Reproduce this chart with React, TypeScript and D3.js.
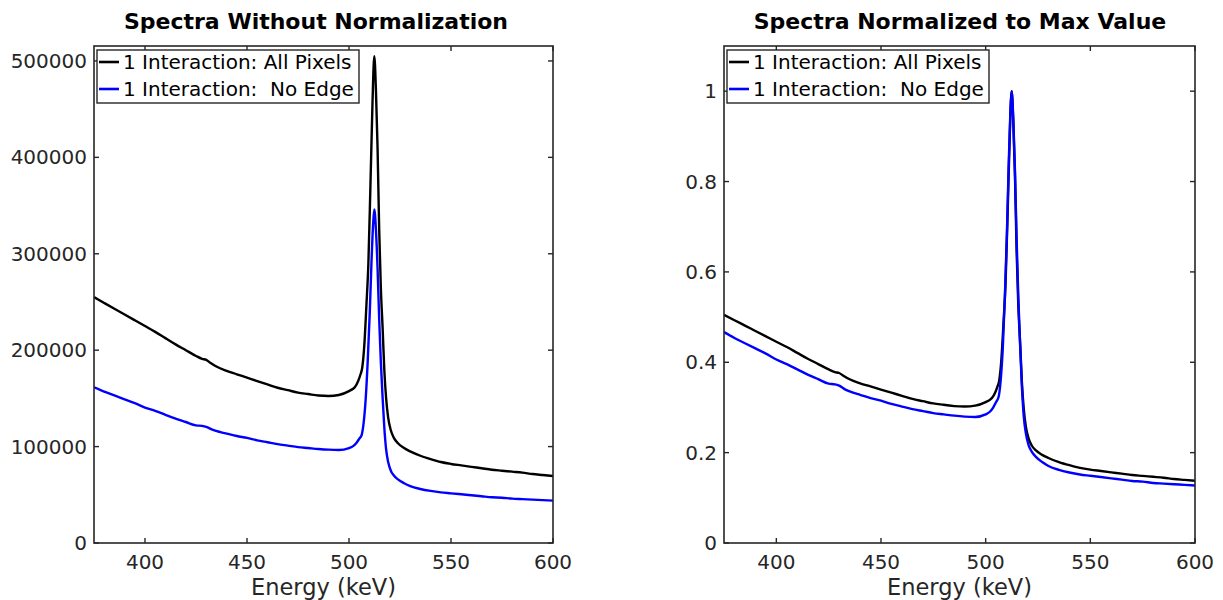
import React from "react";
import * as d3 from "d3";

// Energy grid (keV) and raw counts for each series
const energyAll = [375,380,385,390,395,400,405,410,415,420,425,428,430,432,435,440,445,450,455,460,465,470,475,480,485,490,495,500,502,503,504.5,505.5,506.5,507.5,508.5,509.5,510.5,511.5,512.4,513.2,514.0,514.8,515.6,516.5,517.3,518.2,519.2,520.5,522,524,527,530,535,540,545,550,555,560,565,570,575,580,585,590,595,600];
const countsAll = [255000,249000,243000,237000,231000,225000,219000,212500,206000,200000,194000,191000,190000,187000,183000,178500,175000,171500,168000,164500,161000,158500,156000,154500,153000,152500,153500,157500,160000,162000,168000,174000,182000,205000,245000,290000,370000,455000,505000,470000,410000,325000,265000,222000,180000,150000,130000,117000,109000,103500,98500,95000,90500,87000,84000,82000,80500,79000,77500,76000,75000,74000,73000,71500,70500,69500];

const energyNoEdge = [375,380,385,390,395,400,405,410,415,420,425,428,430,433,437,440,445,450,455,460,465,470,475,480,485,490,495,500,502,503.5,505,506.2,507.2,508.2,509.2,510.2,511.0,511.8,512.4,513.2,514.0,514.8,515.6,516.5,517.3,518.2,519.2,520.5,522,524,527,530,535,540,545,550,555,560,565,570,575,580,585,590,595,600];
const countsNoEdge = [161500,157000,153000,149000,145000,140500,137000,133000,129000,125500,122000,121500,120500,117500,115000,113500,111000,109000,106500,104500,102500,101000,99500,98500,97500,96800,96500,98500,100500,103500,108000,112000,125000,150000,190000,240000,290000,330000,346000,325000,285000,232000,188000,150000,120000,97000,84000,75000,70000,66000,62000,59000,56000,54000,52500,51500,50500,49500,48500,47500,47000,46000,45500,45000,44500,44000];

const xTicks = [400, 450, 500, 550, 600];
const yTicksRaw = [0, 100000, 200000, 300000, 400000, 500000];
const yTicksNorm = [0, 0.2, 0.4, 0.6, 0.8, 1];
const legendLabels = ["1 Interaction: All Pixels", "1 Interaction:  No Edge"];
const seriesColors = ["#000000", "#0000ff"];
const titles = ["Spectra Without Normalization", "Spectra Normalized to Max Value"];
const xLabel = "Energy (keV)";

type Pt = [number, number];

const FONT = "DejaVu Sans, sans-serif";
const AXIS = "#262626";

function Panel(props: {
  left: number; right: number; top: number; bottom: number;
  yDomain: [number, number]; yTicks: number[]; yFormat: (v: number) => string;
  series: Pt[][]; title: string; titleX: number;
}) {
  const { left, right, top, bottom, yDomain, yTicks, yFormat, series, title, titleX } = props;
  const x = d3.scaleLinear().domain([375, 600]).range([left, right]);
  const y = d3.scaleLinear().domain(yDomain).range([bottom, top]);
  const line = d3.line<Pt>().x(d => x(d[0])).y(d => y(d[1])).curve(d3.curveMonotoneX);
  const tl = 5;
  return (
    <g>
      <defs>
        <clipPath id={"clip" + left}>
          <rect x={left} y={top} width={right - left} height={bottom - top} />
        </clipPath>
      </defs>
      <text x={titleX} y={29} textAnchor="middle" fontFamily={FONT} fontWeight="bold" fontSize={22} fill="#000">{title}</text>
      <g clipPath={`url(#clip${left})`}>
        {series.map((s, i) => (
          <path key={i} d={line(s) || ""} fill="none" stroke={seriesColors[i]} strokeWidth={2.4} strokeLinejoin="round" />
        ))}
      </g>
      <rect x={left} y={top} width={right - left} height={bottom - top} fill="none" stroke={AXIS} strokeWidth={1.6} />
      {xTicks.map(t => (
        <g key={"x" + t}>
          <line x1={x(t)} x2={x(t)} y1={bottom} y2={bottom - tl} stroke={AXIS} strokeWidth={1.4} />
          <line x1={x(t)} x2={x(t)} y1={top} y2={top + tl} stroke={AXIS} strokeWidth={1.4} />
          <text x={x(t)} y={569} textAnchor="middle" fontFamily={FONT} fontSize={20} fill={AXIS}>{t}</text>
        </g>
      ))}
      {yTicks.map(t => (
        <g key={"y" + t}>
          <line x1={left} x2={left + tl} y1={y(t)} y2={y(t)} stroke={AXIS} strokeWidth={1.4} />
          <line x1={right} x2={right - tl} y1={y(t)} y2={y(t)} stroke={AXIS} strokeWidth={1.4} />
          <text x={left - 7} y={y(t) + 7} textAnchor="end" fontFamily={FONT} fontSize={20} fill={AXIS}>{yFormat(t)}</text>
        </g>
      ))}
      <text x={(left + right) / 2} y={595} textAnchor="middle" fontFamily={FONT} fontSize={22.5} fill={AXIS}>{xLabel}</text>
      <g>
        <rect x={left + 3} y={top + 4} width={262} height={53} fill="#fff" stroke={AXIS} strokeWidth={1.4} />
        {legendLabels.map((lab, i) => (
          <g key={lab}>
            <line x1={left + 5} x2={left + 25} y1={top + 16 + i * 27} y2={top + 16 + i * 27} stroke={seriesColors[i]} strokeWidth={2.6} />
            <text x={left + 29} y={top + 23 + i * 27} fontFamily={FONT} fontSize={20} fill="#000" style={{ whiteSpace: "pre" }} xmlSpace="preserve">{lab}</text>
          </g>
        ))}
      </g>
    </g>
  );
}

export default function App() {
  const rawAll: Pt[] = energyAll.map((e, i) => [e, countsAll[i]]);
  const rawNoEdge: Pt[] = energyNoEdge.map((e, i) => [e, countsNoEdge[i]]);
  const maxAll = d3.max(countsAll) as number;
  const maxNoEdge = d3.max(countsNoEdge) as number;
  const normAll: Pt[] = rawAll.map(([e, v]) => [e, v / maxAll]);
  const normNoEdge: Pt[] = rawNoEdge.map(([e, v]) => [e, v / maxNoEdge]);
  return (
    <svg width={1223} height={600} style={{ position: "absolute", left: 0, top: 0, background: "#fff" }}>
      <rect x={0} y={0} width={1223} height={600} fill="#fff" />
      <Panel left={94} right={553} top={46} bottom={543} yDomain={[0, 515500]} yTicks={yTicksRaw}
        yFormat={v => String(v)} series={[rawAll, rawNoEdge]} title={titles[0]} titleX={316} />
      <Panel left={724} right={1195} top={46} bottom={543} yDomain={[0, 1.1]} yTicks={yTicksNorm}
        yFormat={v => String(v)} series={[normAll, normNoEdge]} title={titles[1]} titleX={960} />
    </svg>
  );
}
